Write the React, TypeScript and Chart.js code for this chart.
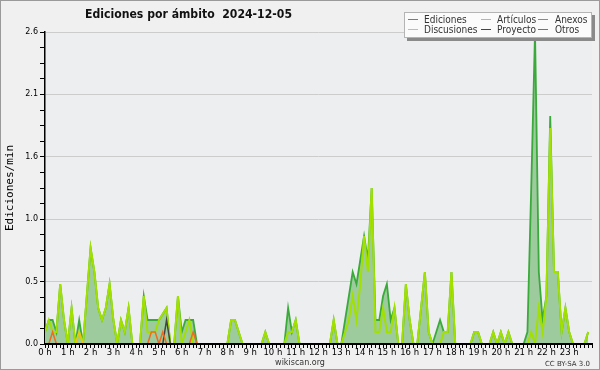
import React, { useEffect, useRef } from 'react';
import { Chart, registerables } from 'chart.js';

Chart.register(...registerables);

const TITLE = 'Ediciones por ámbito  2024-12-05';
const Y_TITLE = 'Ediciones/min';
const FOOTER = 'wikiscan.org';
const LICENSE = 'CC BY-SA 3.0';

const HOUR_LABELS = ['0 h', '1 h', '2 h', '3 h', '4 h', '5 h', '6 h', '7 h', '8 h', '9 h', '10 h', '11 h',
  '12 h', '13 h', '14 h', '15 h', '16 h', '17 h', '18 h', '19 h', '20 h', '21 h', '22 h', '23 h'];
const SLOTS_PER_HOUR = 6; // one value every 10 minutes
const Y_MAX = 2.6;
const Y_STEP = 0.13; // minor tick; every 4th is labelled

const SERIES_NAMES = ['Ediciones', 'Artículos', 'Anexos', 'Discusiones', 'Proyecto', 'Otros'];

const EDICIONES = [
  0.1, 0.2, 0.2, 0.1, 0.5, 0.2, 0, 0.3, 0, 0.2,
  0, 0.4, 0.8, 0.6, 0.3, 0.2, 0.3, 0.5, 0.2, 0,
  0.2, 0.1, 0.3, 0, 0, 0, 0.4, 0.2, 0.2, 0.2,
  0.2, 0.25, 0.3, 0, 0, 0.4, 0.1, 0.2, 0.2, 0.2,
  0, 0, 0, 0, 0, 0, 0, 0, 0, 0.2,
  0.2, 0.1, 0, 0, 0, 0, 0, 0, 0.1, 0,
  0, 0, 0, 0, 0.3, 0.1, 0.2, 0, 0, 0,
  0, 0, 0, 0, 0, 0, 0.2, 0, 0, 0.2,
  0.4, 0.6, 0.5, 0.7, 0.9, 0.7, 1.3, 0.2, 0.2, 0.4,
  0.5, 0.2, 0.3, 0, 0, 0.5, 0.2, 0, 0, 0.3,
  0.6, 0.1, 0, 0.1, 0.2, 0.1, 0.1, 0.6, 0, 0,
  0, 0, 0, 0.1, 0.1, 0, 0, 0, 0.1, 0,
  0.1, 0, 0.1, 0, 0, 0, 0, 0.1, 1.3, 2.6,
  0.6, 0.2, 0.4, 1.9, 0.6, 0.6, 0.1, 0.3, 0.1, 0,
  0, 0, 0, 0.1,
];

const ARTICULOS = [
  0.1, 0.2, 0.1, 0.1, 0.5, 0.2, 0, 0.3, 0, 0.1,
  0, 0.4, 0.8, 0.6, 0.3, 0.2, 0.3, 0.5, 0.2, 0,
  0.2, 0.1, 0.3, 0, 0, 0, 0.4, 0.1, 0.1, 0.1,
  0.2, 0.25, 0.3, 0, 0, 0.4, 0, 0.1, 0.2, 0,
  0, 0, 0, 0, 0, 0, 0, 0, 0, 0.2,
  0.2, 0.1, 0, 0, 0, 0, 0, 0, 0.1, 0,
  0, 0, 0, 0, 0.1, 0.1, 0.2, 0, 0, 0,
  0, 0, 0, 0, 0, 0, 0.2, 0, 0, 0.1,
  0.2, 0.4, 0.2, 0.5, 0.9, 0.6, 1.3, 0.1, 0.1, 0.3,
  0.1, 0.1, 0.3, 0, 0, 0.5, 0.2, 0, 0, 0.3,
  0.6, 0.1, 0, 0, 0, 0.1, 0.1, 0.6, 0, 0,
  0, 0, 0, 0.1, 0.1, 0, 0, 0, 0.1, 0,
  0.1, 0, 0.1, 0, 0, 0, 0, 0, 0.1, 0,
  0.3, 0.1, 0.4, 1.8, 0.6, 0.6, 0.1, 0.3, 0.1, 0,
  0, 0, 0, 0.1,
];

const ANEXOS = [
  0, 0, 0.1, 0, 0, 0, 0, 0, 0, 0,
  0, 0, 0, 0, 0, 0, 0, 0, 0, 0,
  0, 0, 0, 0, 0, 0, 0, 0, 0.1, 0.1,
  0, 0.1, 0, 0, 0, 0, 0, 0, 0, 0.1,
  0, 0, 0, 0, 0, 0, 0, 0, 0, 0,
  0, 0, 0, 0, 0, 0, 0, 0, 0, 0,
  0, 0, 0, 0, 0, 0, 0, 0, 0, 0,
  0, 0, 0, 0, 0, 0, 0, 0, 0, 0,
  0, 0, 0, 0, 0, 0, 0, 0, 0, 0,
  0, 0, 0, 0, 0, 0, 0, 0, 0, 0,
  0, 0, 0, 0, 0, 0, 0, 0, 0, 0,
  0, 0, 0, 0, 0, 0, 0, 0, 0, 0,
  0, 0, 0, 0, 0, 0, 0, 0, 0, 0,
  0, 0, 0, 0, 0, 0, 0, 0, 0, 0,
  0, 0, 0, 0,
];

const DISCUSIONES = [
  0, 0, 0, 0, 0, 0, 0, 0, 0, 0.1,
  0, 0, 0, 0, 0, 0, 0, 0, 0, 0,
  0, 0, 0, 0, 0, 0, 0, 0, 0, 0,
  0, 0, 0, 0, 0, 0, 0, 0, 0, 0,
  0, 0, 0, 0, 0, 0, 0, 0, 0, 0,
  0, 0, 0, 0, 0, 0, 0, 0, 0, 0,
  0, 0, 0, 0, 0, 0, 0, 0, 0, 0,
  0, 0, 0, 0, 0, 0, 0, 0, 0, 0,
  0, 0, 0, 0, 0, 0, 0, 0, 0, 0,
  0, 0, 0, 0, 0, 0, 0, 0, 0, 0,
  0, 0, 0, 0, 0, 0, 0, 0, 0, 0,
  0, 0, 0, 0, 0, 0, 0, 0, 0, 0,
  0, 0, 0, 0, 0, 0, 0, 0, 0, 0,
  0, 0, 0, 0, 0, 0, 0, 0, 0, 0,
  0, 0, 0, 0,
];

const PROYECTO = [
  0, 0, 0, 0, 0, 0, 0, 0, 0, 0,
  0, 0, 0, 0, 0, 0, 0, 0, 0, 0,
  0, 0, 0, 0, 0, 0, 0, 0, 0, 0,
  0, 0, 0.2, 0, 0, 0, 0, 0, 0, 0,
  0, 0, 0, 0, 0, 0, 0, 0, 0, 0,
  0, 0, 0, 0, 0, 0, 0, 0, 0, 0,
  0, 0, 0, 0, 0, 0, 0, 0, 0, 0,
  0, 0, 0, 0, 0, 0, 0, 0, 0, 0,
  0, 0, 0, 0, 0, 0, 0, 0, 0, 0,
  0, 0, 0, 0, 0, 0, 0, 0, 0, 0,
  0, 0, 0, 0, 0, 0, 0, 0, 0, 0,
  0, 0, 0, 0, 0, 0, 0, 0, 0, 0,
  0, 0, 0, 0, 0, 0, 0, 0, 0, 0,
  0, 0, 0, 0, 0, 0, 0, 0, 0, 0,
  0, 0, 0, 0,
];

const OTROS = [
  0, 0, 0, 0, 0, 0, 0, 0, 0, 0,
  0, 0, 0, 0, 0, 0, 0, 0, 0, 0,
  0, 0, 0, 0, 0, 0, 0, 0, 0, 0,
  0, 0, 0, 0, 0, 0, 0, 0, 0, 0,
  0, 0, 0, 0, 0, 0, 0, 0, 0, 0,
  0, 0, 0, 0, 0, 0, 0, 0, 0, 0,
  0, 0, 0, 0, 0, 0, 0, 0, 0, 0,
  0, 0, 0, 0, 0, 0, 0, 0, 0, 0,
  0, 0, 0, 0, 0, 0, 0, 0, 0, 0,
  0, 0, 0, 0, 0, 0, 0, 0, 0, 0,
  0, 0, 0, 0, 0, 0, 0, 0, 0, 0,
  0, 0, 0, 0, 0, 0, 0, 0, 0, 0,
  0, 0, 0, 0, 0, 0, 0, 0, 0, 0,
  0, 0, 0, 0, 0, 0, 0, 0, 0, 0,
  0, 0, 0, 0,
];

const COLORS = {
  Ediciones: '#3aaa3a',
  Articulos: '#a2e000',
  Anexos: '#f06a20',
  Discusiones: '#f0c020',
  Proyecto: '#444444',
  Otros: '#9050e0',
};
const FILL = '#9dcb9d';

const toPoints = (arr: number[]) => arr.map((v, i) => ({ x: i, y: v }));

// draw text squeezed/stretched horizontally to a target width
function fitText(ctx: CanvasRenderingContext2D, text: string, x: number, y: number, target: number) {
  const w = ctx.measureText(text).width;
  const k = w > 0 ? target / w : 1;
  ctx.save();
  ctx.translate(x, y);
  ctx.scale(k, 1);
  ctx.fillText(text, 0, 0);
  ctx.restore();
}

const bgPlugin = {
  id: 'bgPlugin',
  beforeDraw(chart: any) {
    const { ctx, chartArea: a, width, height } = chart;
    ctx.save();
    ctx.fillStyle = '#f0f0f0';
    ctx.fillRect(0, 0, width, height);
    ctx.strokeStyle = '#9a9a9a';
    ctx.lineWidth = 1;
    ctx.strokeRect(0.5, 0.5, width - 1, height - 1);
    ctx.fillStyle = '#eceef0';
    ctx.fillRect(a.left, a.top, a.right - a.left, a.bottom - a.top);
    ctx.restore();
  },
  afterDatasetsDraw(chart: any) {
    const { ctx, chartArea: a } = chart;
    ctx.save();
    ctx.strokeStyle = '#000';
    ctx.lineWidth = 2;
    ctx.beginPath();
    ctx.moveTo(a.left - 1, a.bottom);
    ctx.lineTo(a.right, a.bottom);
    ctx.stroke();
    ctx.restore();
  },
};

const overlayPlugin = {
  id: 'overlayPlugin',
  afterDraw(chart: any) {
    const { ctx } = chart;
    ctx.save();
    // title
    ctx.fillStyle = '#111';
    ctx.textBaseline = 'alphabetic';
    ctx.textAlign = 'left';
    ctx.font = 'bold 13px "DejaVu Sans", sans-serif';
    fitText(ctx, TITLE, 85, 18, 207);

    // legend box
    const bx = 404, by = 12, bw = 188, bh = 26;
    ctx.fillStyle = '#8a8a8a';
    ctx.fillRect(bx + 3, by + 3, bw, bh);
    ctx.fillStyle = '#fbfbfb';
    ctx.fillRect(bx, by, bw, bh);
    ctx.strokeStyle = '#b4b4b4';
    ctx.lineWidth = 1;
    ctx.strokeRect(bx + 0.5, by + 0.5, bw - 1, bh - 1);

    const cols = [408, 481, 538];
    const textX = [424, 497, 555];
    const rows = [19.5, 29.5];
    const items = [
      [SERIES_NAMES[0], COLORS.Ediciones, 0, 0],
      [SERIES_NAMES[3], COLORS.Discusiones, 0, 1],
      [SERIES_NAMES[1], COLORS.Articulos, 1, 0],
      [SERIES_NAMES[4], COLORS.Proyecto, 1, 1],
      [SERIES_NAMES[2], COLORS.Anexos, 2, 0],
      [SERIES_NAMES[5], COLORS.Otros, 2, 1],
    ] as [string, string, number, number][];
    ctx.font = '10px "DejaVu Sans", sans-serif';
    for (const [name, color, c, r] of items) {
      ctx.strokeStyle = color;
      ctx.lineWidth = 1;
      ctx.beginPath();
      ctx.moveTo(cols[c], rows[r]);
      ctx.lineTo(cols[c] + 10, rows[r]);
      ctx.stroke();
      ctx.fillStyle = '#333';
      const w = ctx.measureText(name).width;
      fitText(ctx, name, textX[c], rows[r] + 3.5, w * 0.9);
    }

    // footer
    ctx.fillStyle = '#333';
    ctx.font = '8px "DejaVu Sans", sans-serif';
    ctx.textAlign = 'center';
    ctx.fillText(FOOTER, 300, 365);
    ctx.font = '7px "DejaVu Sans", sans-serif';
    ctx.textAlign = 'right';
    ctx.fillText(LICENSE, 590, 366);
    ctx.restore();
  },
};

export default function App() {
  const ref = useRef<HTMLCanvasElement>(null);
  useEffect(() => {
    document.body.style.margin = '0';
    const canvas = ref.current;
    if (!canvas) return;
    const line = (label: string, data: number[], color: string, order: number, width: number, extra: any = {}) => ({
      label,
      data: toPoints(data),
      borderColor: color,
      borderWidth: width,
      pointRadius: 0,
      tension: 0,
      fill: false,
      order,
      ...extra,
    });
    const chart = new Chart(canvas, {
      type: 'line',
      data: {
        datasets: [
          line(SERIES_NAMES[0], EDICIONES, COLORS.Ediciones, 6, 1.8, { fill: 'origin', backgroundColor: FILL }),
          line(SERIES_NAMES[1], ARTICULOS, COLORS.Articulos, 5, 2),
          line(SERIES_NAMES[3], DISCUSIONES, COLORS.Discusiones, 4, 1.5),
          line(SERIES_NAMES[4], PROYECTO, COLORS.Proyecto, 3, 1.5),
          line(SERIES_NAMES[2], ANEXOS, COLORS.Anexos, 2, 1.5),
          line(SERIES_NAMES[5], OTROS, COLORS.Otros, 1, 1.5),
        ],
      },
      options: {
        responsive: false,
        animation: false,
        events: [],
        layout: { padding: { top: 32, right: 8, bottom: 0, left: 0 } },
        plugins: {
          legend: { display: false },
          title: { display: false },
          tooltip: { enabled: false },
          filler: { drawTime: 'beforeDatasetsDraw' },
        },
        scales: {
          x: {
            type: 'linear',
            min: 0,
            max: HOUR_LABELS.length * SLOTS_PER_HOUR,
            afterFit: (s: any) => { s.height = 26; },
            border: { display: true, color: '#000', width: 2 },
            grid: { drawOnChartArea: false, drawTicks: true, tickLength: 4, tickColor: '#000', tickWidth: 1 },
            ticks: {
              stepSize: 1,
              autoSkip: false,
              maxRotation: 0,
              minRotation: 0,
              padding: 0,
              color: '#000',
              font: { family: '"DejaVu Sans", sans-serif', size: 8.5 },
              callback: (v: any) => {
                const n = Number(v);
                return n % SLOTS_PER_HOUR === 0 && n / SLOTS_PER_HOUR < HOUR_LABELS.length ? HOUR_LABELS[n / SLOTS_PER_HOUR] : '';
              },
            },
          },
          y: {
            min: 0,
            max: Y_MAX,
            afterFit: (s: any) => { s.width = 45; },
            border: { display: true, color: '#000', width: 1.5 },
            grid: {
              color: (c: any) => (c.index > 0 && c.index % 4 === 0 ? '#cccccc' : 'rgba(0,0,0,0)'),
              tickLength: 5,
              tickColor: '#000',
              tickWidth: 1,
            },
            ticks: {
              stepSize: Y_STEP,
              autoSkip: false,
              padding: 2,
              color: '#000',
              font: { family: '"DejaVu Sans", sans-serif', size: 8 },
              callback: (v: any, i: number) => (i % 4 === 0 ? Number(v).toFixed(1) : ''),
            },
            title: {
              display: true,
              text: Y_TITLE,
              color: '#000',
              font: { family: '"DejaVu Sans Mono", monospace', size: 11 },
              padding: { top: 4, bottom: 0 },
            },
          },
        },
      } as any,
      plugins: [bgPlugin, overlayPlugin],
    });
    return () => chart.destroy();
  }, []);
  return (
    <div style={{ width: 600, height: 370 }}>
      <canvas ref={ref} width={600} height={370} style={{ display: 'block' }} />
    </div>
  );
}
